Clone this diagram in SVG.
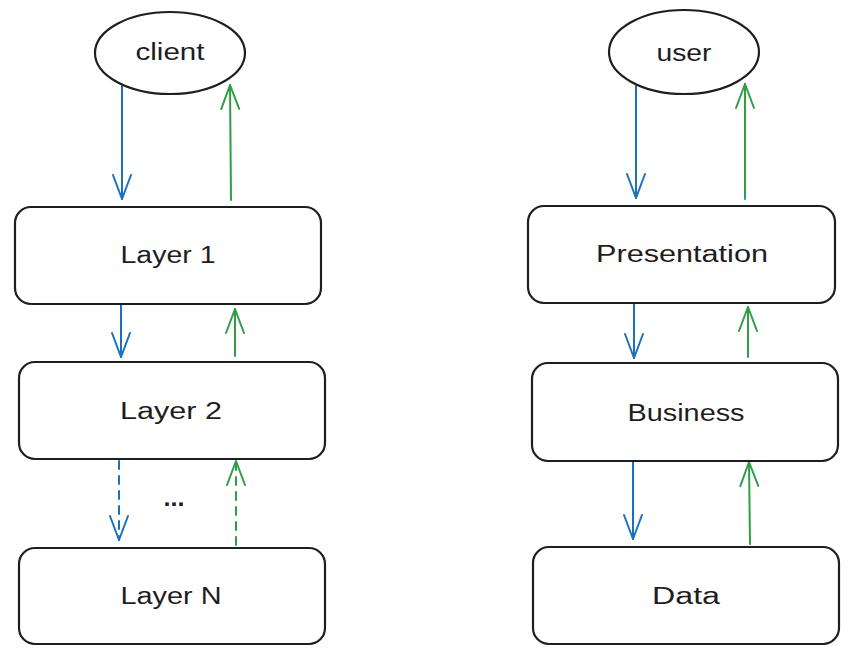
<svg xmlns="http://www.w3.org/2000/svg" width="855" height="661" viewBox="0 0 855 661">
<defs>
<style>
.node{fill:#ffffff;stroke:#1e1e1e;stroke-width:2.2}
.lbl{font-family:"Liberation Sans","DejaVu Sans",sans-serif;font-size:23px;fill:#1e1e1e;text-anchor:middle}
.down{fill:none;stroke:#1971c2;stroke-width:2;stroke-linecap:round}
.up{fill:none;stroke:#2f9e44;stroke-width:2;stroke-linecap:round}
.dash{stroke-dasharray:8 7}
</style>
<marker id="hb" markerUnits="userSpaceOnUse" markerWidth="30" markerHeight="24" refX="25" refY="10" orient="auto" overflow="visible">
<path d="M1,1 L25,10 L1,19" fill="none" stroke="#1971c2" stroke-width="2" stroke-linecap="round" stroke-linejoin="round"/>
</marker>
<marker id="hg" markerUnits="userSpaceOnUse" markerWidth="30" markerHeight="24" refX="25" refY="10" orient="auto" overflow="visible">
<path d="M1,1 L25,10 L1,19" fill="none" stroke="#2f9e44" stroke-width="2" stroke-linecap="round" stroke-linejoin="round"/>
</marker>
</defs>
<rect width="855" height="661" fill="#ffffff"/>
<g id="connectors">
<path class="down" d="M122,86 L122,199" marker-end="url(#hb)"/>
<path class="up" d="M231,200 L230,85" marker-end="url(#hg)"/>
<path class="down" d="M121,305 L121,357" marker-end="url(#hb)"/>
<path class="up" d="M235,356 L235,309" marker-end="url(#hg)"/>
<path class="down dash" d="M119,461 L119,540" marker-end="url(#hb)"/>
<path class="up dash" d="M236,545 L236,461" marker-end="url(#hg)"/>
<path class="down" d="M636,86 L636,198" marker-end="url(#hb)"/>
<path class="up" d="M745,199 L745,84" marker-end="url(#hg)"/>
<path class="down" d="M634,304 L634,358" marker-end="url(#hb)"/>
<path class="up" d="M748,357 L748,307" marker-end="url(#hg)"/>
<path class="down" d="M633,462 L633,539" marker-end="url(#hb)"/>
<path class="up" d="M750,544 L749,462" marker-end="url(#hg)"/>
</g>
<g id="client">
<ellipse class="node" cx="170" cy="53" rx="75" ry="41"/>
<text class="lbl" x="170" y="60" textLength="69" lengthAdjust="spacingAndGlyphs">client</text>
</g>
<g id="layer1">
<rect class="node" x="15" y="207" width="306" height="97" rx="16"/>
<text class="lbl" x="168" y="263" textLength="95" lengthAdjust="spacingAndGlyphs">Layer 1</text>
</g>
<g id="layer2">
<rect class="node" x="19" y="362" width="306" height="97" rx="16"/>
<text class="lbl" x="171" y="419" textLength="102" lengthAdjust="spacingAndGlyphs">Layer 2</text>
</g>
<g id="ellipsis">
<text class="lbl" x="174" y="506" font-weight="bold" textLength="21" lengthAdjust="spacingAndGlyphs">...</text>
</g>
<g id="layerN">
<rect class="node" x="19" y="548" width="306" height="96" rx="16"/>
<text class="lbl" x="171" y="604" textLength="101" lengthAdjust="spacingAndGlyphs">Layer N</text>
</g>
<g id="user">
<ellipse class="node" cx="684" cy="52" rx="75" ry="42"/>
<text class="lbl" x="684" y="61" textLength="55" lengthAdjust="spacingAndGlyphs">user</text>
</g>
<g id="presentation">
<rect class="node" x="528" y="206" width="307" height="97" rx="16"/>
<text class="lbl" x="682" y="262" textLength="172" lengthAdjust="spacingAndGlyphs">Presentation</text>
</g>
<g id="business">
<rect class="node" x="532" y="363" width="306" height="98" rx="16"/>
<text class="lbl" x="686" y="421" textLength="117" lengthAdjust="spacingAndGlyphs">Business</text>
</g>
<g id="data">
<rect class="node" x="533" y="547" width="306" height="97" rx="16"/>
<text class="lbl" x="686" y="604" textLength="68" lengthAdjust="spacingAndGlyphs">Data</text>
</g>
</svg>
